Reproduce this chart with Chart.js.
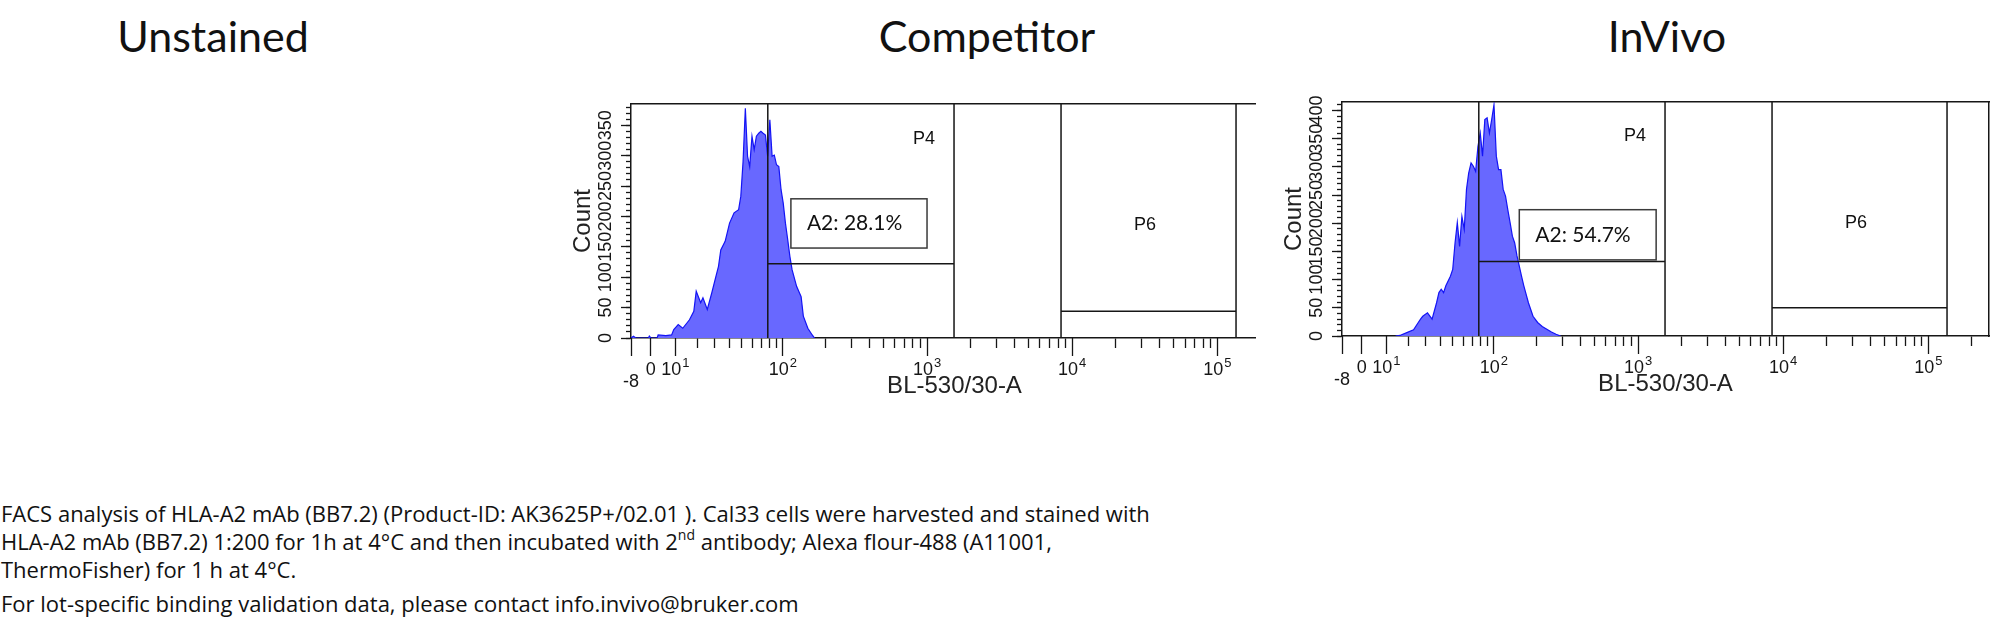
<!DOCTYPE html>
<html>
<head>
<meta charset="utf-8">
<script src="https://cdn.jsdelivr.net/npm/chart.js@4.4.1/dist/chart.umd.min.js"></script>
<style>
	html, body { margin: 0; padding: 0; background: #fff; }
	body { width: 2000px; height: 635px; position: relative; overflow: hidden; }
	.title { position: absolute; top: 14px; width: 400px; text-align: center; font: 43px/43px Lato, sans-serif; color: #111; }
	.panel { position: absolute; overflow: hidden; }
	.caption { position: absolute; left: 1px; font: 22px/22px 'Open Sans', sans-serif; color: #111; white-space: nowrap; }
	.caption sup { font-size: 14px; line-height: 0; vertical-align: 10px; }
</style>
</head>
<body>
<div class="title" style="left:13px">Unstained</div>
<div class="title" style="left:787px">Competitor</div>
<div class="title" style="left:1467px">InVivo</div>

<div class="panel" style="left:541px; top:90px; width:715px; height:330px"><canvas id="competitor" width="749" height="318"></canvas></div>
<div class="panel" style="left:1252px; top:88px; width:748px; height:330px"><canvas id="invivo" width="749" height="318"></canvas></div>

<div class="caption" style="top:502px">FACS analysis of HLA-A2 mAb (BB7.2) (Product-ID: AK3625P+/02.01 ). Cal33 cells were harvested and stained with</div>
<div class="caption" style="top:530px">HLA-A2 mAb (BB7.2) 1:200 for 1h at 4°C and then incubated with 2<sup>nd</sup> antibody; Alexa flour-488 (A11001,</div>
<div class="caption" style="top:558px">ThermoFisher) for 1 h at 4°C.</div>
<div class="caption" style="top:592px">For lot-specific binding validation data, please contact info.invivo@bruker.com</div>

<script>
// BL-530/30-A axis (biexponential display)
const X_MIN = -8
const X_MAX = 262144
const xMajorTicks = [-8, 0, 10, 100, 1000, 10000, 100000]
const xMajorBase = ['-8', '0', '10', '10', '10', '10', '10']
const xMajorExp = ['', '', '1', '2', '3', '4', '5']
const xMinorTicks = [
	20, 30, 40, 50, 60, 70, 80, 90,
	200, 300, 400, 500, 600, 700, 800, 900,
	2000, 3000, 4000, 5000, 6000, 7000, 8000, 9000,
	20000, 30000, 40000, 50000, 60000, 70000, 80000, 90000,
	200000
]

// Count axis
const countMajorTicks = [0, 50, 100, 150, 200, 250, 300, 350, 400]
const countMinorTicks = [0, 10, 20, 30, 40, 50, 60, 70, 80, 90, 100, 110, 120, 130, 140, 150, 160, 170, 180, 190, 200,
	210, 220, 230, 240, 250, 260, 270, 280, 290, 300, 310, 320, 330, 340, 350, 360, 370, 380, 390, 400, 410]

// gates (same for both samples)
const gateP4 = [78, 1535]
const gateP6 = [8385, 134700]

// Competitor histogram
const competitorX = [-8, -7, -6, -1, -0.6, 0, 2.5, 2.9, 6, 8.4, 9.3, 11.2, 13.2, 16.3, 18.4, 19.6, 21.9, 23.1, 25.5, 28.1,
	30.9, 32.3, 33.8, 36.8, 40, 43.5, 47.2, 49.1, 51.1, 53.2, 55.3, 57.4, 59.7, 62, 64.4, 67, 69.5, 72.1, 75, 77.8,
	80.7, 83.8, 86.9, 90.1, 93.6, 97.1, 100.6, 104.3, 108.2, 112.2, 116.3, 125, 134.5, 139.4, 149.9, 160.8, 166.9]
const competitorCount = [0, 3, 0, 0, 3, 0, 0, 5, 4, 5, 14, 22, 16, 30, 44, 77, 58, 66, 47, 74,
	104, 118, 145, 159, 189, 206, 211, 233, 290, 378, 299, 282, 332, 310, 332, 337, 340, 337, 334, 299,
	359, 299, 301, 285, 282, 244, 222, 189, 162, 134, 112, 85, 68, 36, 16, 5, 0]

// InVivo histogram
const invivoX = [14, 16, 19.4, 22.9, 25.5, 26.8, 28.1, 31, 34, 37.1, 38.8, 40.5, 42.3, 44.1, 47.9, 49.9, 52, 54.1, 56.3, 58.6,
	61, 63.4, 65.8, 68.5, 71.2, 74, 76.9, 79.9, 83, 86.2, 89.5, 93, 96.5, 100.2, 104.1, 108, 112.2, 116.4, 120.9, 125.4,
	130.2, 135.1, 140.2, 145.5, 151, 156.5, 162.4, 174.8, 188.2, 202.5, 218, 234.6, 252.5, 271.7, 292.3]
const invivoCount = [0, 1, 6, 11, 24, 30, 35, 41, 30, 59, 77, 83, 77, 89, 106, 118, 165, 201, 159, 212,
	189, 260, 289, 307, 301, 292, 336, 360, 319, 384, 387, 360, 384, 410, 319, 295, 295, 260, 248, 224,
	201, 177, 165, 142, 124, 106, 89, 59, 35, 24, 17, 12, 7, 3, 0]

const panels = [
	{ id: 'competitor', x: competitorX, y: competitorCount, yMax: 385, levels: [122, 44],
		a2: 'A2: 28.1%', box: [114, 1000, 148, 229], p4At: [953, 327], p6At: [31800, 186] },
	{ id: 'invivo', x: invivoX, y: invivoCount, yMax: 415, levels: [132, 50],
		a2: 'A2: 54.7%', box: [151, 1333, 135, 224], p4At: [953, 355], p6At: [31800, 200] },
]

const AXIS_FONT = "'Liberation Sans', Arial, sans-serif"
const INK = '#161616'

const W = 25
const fwd = v => Math.asinh(v / W)
const inv = t => W * Math.sinh(t)

class BiexScale extends Chart.LinearScale {
	getPixelForValue(value) {
		const a = fwd(this.min)
		const b = fwd(this.max)
		return this.getPixelForDecimal((fwd(value) - a) / (b - a))
	}
	getValueForPixel(pixel) {
		const a = fwd(this.min)
		const b = fwd(this.max)
		return inv(a + this.getDecimalForPixel(pixel) * (b - a))
	}
}
BiexScale.id = 'biex'
Chart.register(BiexScale)

// decade labels with raised exponents, placed on the xMajor scale
const decadeLabels = {
	id: 'decadeLabels',
	afterDraw(chart) {
		const { ctx } = chart
		const s = chart.scales.xMajor
		ctx.save()
		ctx.fillStyle = INK
		ctx.textBaseline = 'alphabetic'
		ctx.textAlign = 'left'
		xMajorTicks.forEach((v, i) => {
			const px = s.getPixelForValue(v)
			ctx.font = '18px ' + AXIS_FONT
			const wb = ctx.measureText(xMajorBase[i]).width
			ctx.font = '13px ' + AXIS_FONT
			const we = xMajorExp[i] ? ctx.measureText(xMajorExp[i]).width + 1 : 0
			const x0 = px - (wb + we) / 2
			const yb = s.top + (i === 0 ? 48.5 : 37)
			ctx.font = '18px ' + AXIS_FONT
			ctx.fillText(xMajorBase[i], x0, yb)
			if (xMajorExp[i]) {
				ctx.font = '13px ' + AXIS_FONT
				ctx.fillText(xMajorExp[i], x0 + wb + 1, s.top + 29)
			}
		})
		ctx.restore()
	}
}

const gateLabels = {
	id: 'gateLabels',
	afterDatasetsDraw(chart, args, opts) {
		const { ctx } = chart
		const x = chart.scales.x
		const y = chart.scales.y
		const p = opts.panel
		ctx.save()
		const left = x.getPixelForValue(p.box[0])
		const right = x.getPixelForValue(p.box[1])
		const top = y.getPixelForValue(p.box[3])
		const bottom = y.getPixelForValue(p.box[2])
		ctx.strokeStyle = '#3a3a3a'
		ctx.lineWidth = 1.5
		ctx.strokeRect(left, top, right - left, bottom - top)
		ctx.fillStyle = '#111'
		ctx.font = '21px Lato, sans-serif'
		ctx.textBaseline = 'middle'
		ctx.textAlign = 'left'
		ctx.fillText(p.a2, left + 16, (top + bottom) / 2)
		ctx.font = '18px ' + AXIS_FONT
		ctx.textAlign = 'center'
		ctx.fillText('P4', x.getPixelForValue(p.p4At[0]), y.getPixelForValue(p.p4At[1]))
		ctx.fillText('P6', x.getPixelForValue(p.p6At[0]), y.getPixelForValue(p.p6At[1]))
		ctx.restore()
	}
}

function gatePath(gate, level, top) {
	return [
		{ x: gate[0], y: top }, { x: gate[0], y: 0 }, { x: gate[0], y: level },
		{ x: gate[1], y: level }, { x: gate[1], y: 0 }, { x: gate[1], y: top },
	]
}

panels.forEach(p => {
	const hist = p.x.map((v, i) => ({ x: v, y: p.y[i] }))
	new Chart(document.getElementById(p.id), {
		type: 'line',
		data: {
			datasets: [
				{ data: gatePath(gateP4, p.levels[0], p.yMax), borderColor: INK, borderWidth: 1.5, pointRadius: 0, fill: false, order: 0 },
				{ data: gatePath(gateP6, p.levels[1], p.yMax), borderColor: INK, borderWidth: 1.5, pointRadius: 0, fill: false, order: 0 },
				{ data: hist, borderColor: 'rgb(20,20,245)', borderWidth: 1.2, backgroundColor: 'rgb(104,104,255)',
					pointRadius: 0, fill: 'origin', tension: 0, order: 1 },
			]
		},
		options: {
			responsive: false,
			animation: false,
			events: [],
			layout: { autoPadding: false, padding: { top: 14, right: 12, left: 0, bottom: 0 } },
			plugins: { legend: { display: false }, tooltip: { enabled: false }, gateLabels: { panel: p } },
			scales: {
				x: {
					type: 'biex', position: 'bottom', weight: 0, min: X_MIN, max: X_MAX,
					afterBuildTicks: s => { s.ticks = xMinorTicks.map(v => ({ value: v })) },
					afterFit: s => { s.height = 0 },
					ticks: { display: false },
					grid: { drawOnChartArea: false, tickLength: 10, tickColor: INK, tickWidth: 1.3 },
					border: { display: true, color: INK, width: 1.5 },
				},
				xMajor: {
					type: 'biex', position: 'bottom', weight: 1, min: X_MIN, max: X_MAX,
					afterBuildTicks: s => { s.ticks = xMajorTicks.map(v => ({ value: v })) },
					afterFit: s => { s.height = 70 },
					ticks: { display: false },
					grid: { drawOnChartArea: false, tickLength: 18, tickColor: INK, tickWidth: 1.3 },
					border: { display: false },
					title: { display: true, text: 'BL-530/30-A', color: '#222', font: { family: AXIS_FONT, size: 24 }, padding: { top: 0, bottom: 7.6 } },
				},
				xTop: {
					type: 'linear', position: 'top', min: 0, max: 1,
					afterFit: s => { s.height = 0 },
					ticks: { display: false }, grid: { display: false, drawTicks: false },
					border: { display: true, color: INK, width: 1.5 },
				},
				y: {
					type: 'linear', position: 'left', weight: 0, min: 0, max: p.yMax,
					afterBuildTicks: s => { s.ticks = countMinorTicks.filter(v => v <= p.yMax).map(v => ({ value: v })) },
					afterFit: s => { s.width = 0 },
					ticks: { display: false },
					grid: { drawOnChartArea: false, tickLength: 5, tickColor: INK, tickWidth: 1.3 },
					border: { display: true, color: INK, width: 1.5 },
				},
				yMajor: {
					type: 'linear', position: 'left', weight: 1, min: 0, max: p.yMax,
					afterBuildTicks: s => { s.ticks = countMajorTicks.filter(v => v <= p.yMax).map(v => ({ value: v })) },
					afterFit: s => { s.width = 90 },
					ticks: { autoSkip: false, minRotation: 90, maxRotation: 90, crossAlign: 'center', padding: 0, color: INK,
						font: { family: AXIS_FONT, size: 18 } },
					grid: { drawOnChartArea: false, tickLength: 10, tickColor: INK, tickWidth: 1.3 },
					border: { display: false },
					title: { display: true, text: 'Count', color: '#222', font: { family: AXIS_FONT, size: 24 }, padding: { top: 27.6, bottom: 0 } },
				},
				yRight: {
					type: 'linear', position: 'right', min: 0, max: 1,
					afterFit: s => { s.width = 0 },
					ticks: { display: false }, grid: { display: false, drawTicks: false },
					border: { display: true, color: INK, width: 1.5 },
				},
			}
		},
		plugins: [gateLabels, decadeLabels]
	})
})
</script>
</body>
</html>
